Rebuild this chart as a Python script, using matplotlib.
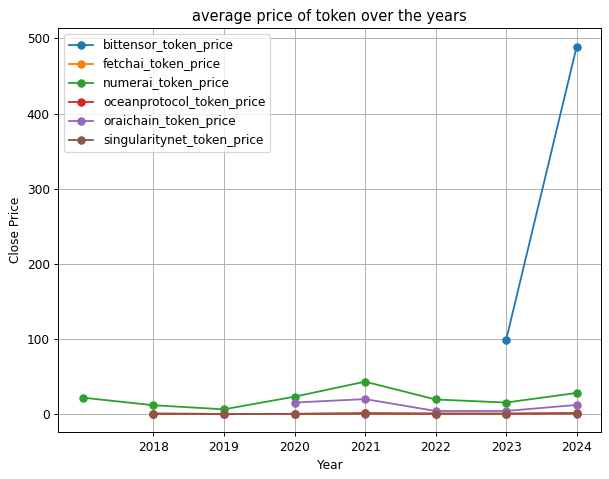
import matplotlib
matplotlib.use("Agg")
import matplotlib.pyplot as plt
import numpy as np

years_bittensor = [2023, 2024]
bittensor = [98.5, 489.0]

years_fetchai = [2018, 2019, 2020, 2021, 2022, 2023, 2024]
fetchai = [0.3, 0.1, 0.1, 1.0, 0.5, 0.3, 1.5]

years_numerai = [2017, 2018, 2019, 2020, 2021, 2022, 2023, 2024]
numerai = [21.7, 11.6, 6.2, 23.0, 43.0, 19.3, 15.2, 28.0]

years_ocean = [2018, 2019, 2020, 2021, 2022, 2023, 2024]
oceanprotocol = [0.2, 0.05, 0.2, 1.0, 0.5, 0.4, 0.9]

years_oraichain = [2020, 2021, 2022, 2023, 2024]
oraichain = [15.2, 19.8, 4.0, 4.0, 12.0]

years_singularity = [2018, 2019, 2020, 2021, 2022, 2023, 2024]
singularitynet = [0.6, 0.05, 0.05, 0.2, 0.2, 0.3, 0.6]

xticks = [2018, 2019, 2020, 2021, 2022, 2023, 2024]

fig, ax = plt.subplots(figsize=(7, 5.506), dpi=87)
fig.subplots_adjust(left=0.0957, right=0.9874, top=0.9409, bottom=0.0975)

series = [
    (years_bittensor, bittensor, "bittensor_token_price"),
    (years_fetchai, fetchai, "fetchai_token_price"),
    (years_numerai, numerai, "numerai_token_price"),
    (years_ocean, oceanprotocol, "oceanprotocol_token_price"),
    (years_oraichain, oraichain, "oraichain_token_price"),
    (years_singularity, singularitynet, "singularitynet_token_price"),
]
for x, y, lab in series:
    ax.plot(x, y, marker="o", label=lab)

ax.set_xticks(xticks)
ax.set_title("average price of token over the years")
ax.set_xlabel("Year")
ax.set_ylabel("Close Price")
ax.grid(True)
ax.legend(loc="upper left")
fig.savefig("out.png", dpi=87)
